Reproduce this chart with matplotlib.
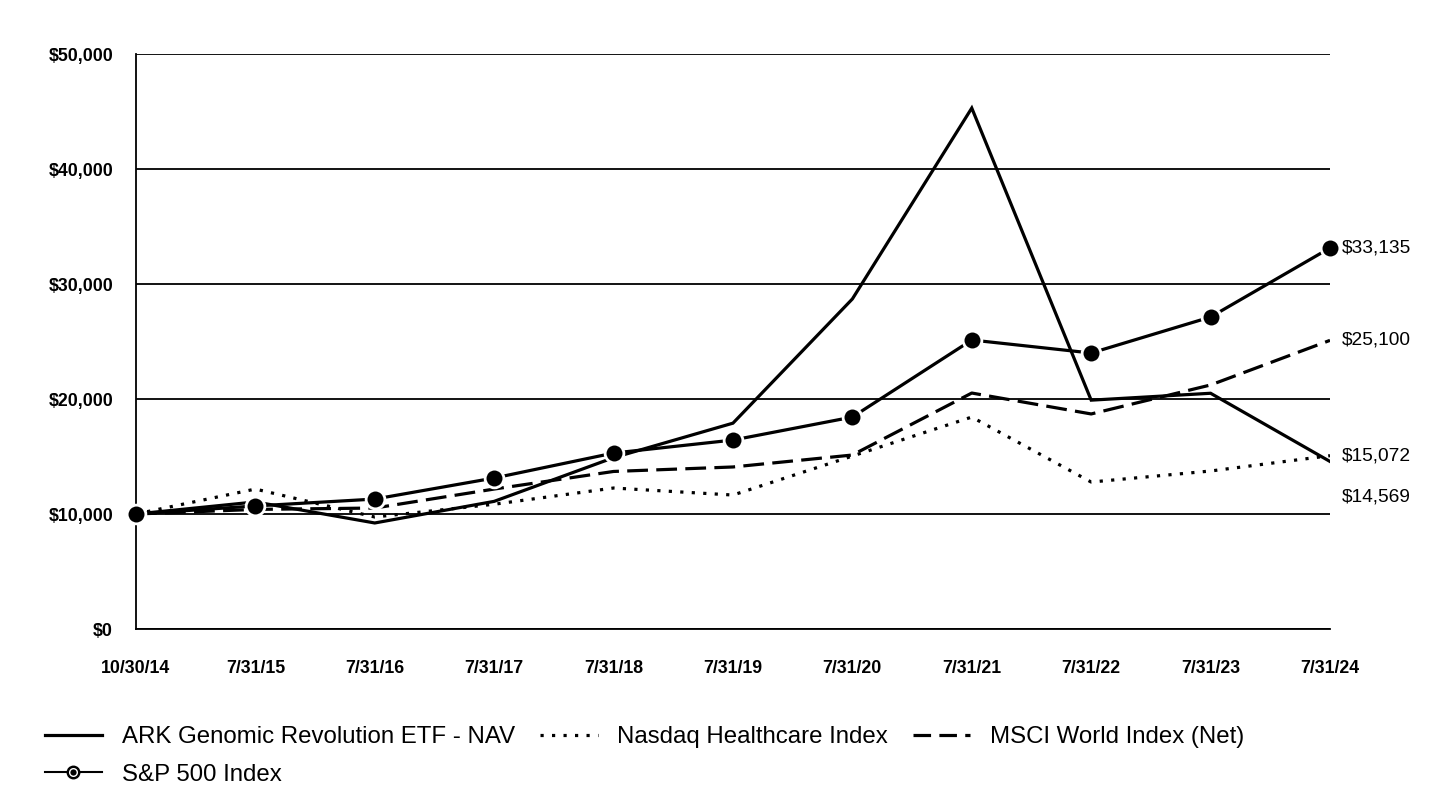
import matplotlib.pyplot as plt
from matplotlib.lines import Line2D
from matplotlib.ticker import FuncFormatter

plt.rcParams['font.family'] = ['Liberation Sans', 'DejaVu Sans']

dates = ['10/30/14', '7/31/15', '7/31/16', '7/31/17', '7/31/18', '7/31/19',
         '7/31/20', '7/31/21', '7/31/22', '7/31/23', '7/31/24']

ark = [10000, 11050, 9220, 11100, 14900, 17900, 28700, 45300, 19900, 20500, 14569]
nasdaq = [10000, 12170, 9740, 10850, 12260, 11650, 15040, 18430, 12780, 13740, 15072]
msci = [10000, 10400, 10520, 12170, 13700, 14090, 15130, 20520, 18700, 21220, 25100]
sp500 = [10000, 10700, 11300, 13130, 15300, 16430, 18430, 25130, 24000, 27130, 33135]

yticks = [0, 10000, 20000, 30000, 40000, 50000]


def money(x, pos=None):
    return f'${x:,.0f}'


fig = plt.figure(figsize=(14.4, 7.92), dpi=100)
ax = fig.add_axes([0.0944, 0.2058, 0.8292, 0.726])

x = list(range(len(dates)))
lw = 2.3
dotted = (0, (1, 2.6))
dashed = (0, (6.5, 2.6))
ax.plot(x, ark, color='black', lw=lw, solid_joinstyle='miter', zorder=3)
ax.plot(x, nasdaq, color='black', lw=lw, linestyle=dotted, zorder=3)
ax.plot(x, msci, color='black', lw=lw, linestyle=dashed, zorder=3)
ax.plot(x, sp500, color='black', lw=lw, marker='o', markersize=13.5,
        markerfacecolor='black', markeredgecolor='white', markeredgewidth=2,
        zorder=4, clip_on=False)

ax.set_xlim(0, len(dates) - 1)
ax.set_ylim(0, 50000)
ax.set_yticks(yticks)
ax.yaxis.set_major_formatter(FuncFormatter(money))
ax.set_xticks(x)
ax.set_xticklabels(dates)
ax.tick_params(axis='both', length=0, labelsize=12.8)
ax.tick_params(axis='x', pad=22)
ax.tick_params(axis='y', pad=16.5)
for lab in ax.get_xticklabels() + ax.get_yticklabels():
    lab.set_fontweight('bold')

ax.grid(axis='y', color='black', lw=1.3)
ax.set_axisbelow(True)
for side in ['top', 'right']:
    ax.spines[side].set_visible(False)
ax.spines['left'].set_linewidth(1.3)
ax.spines['bottom'].set_linewidth(1.3)

# end-of-line value labels
ends = [(sp500[-1], 0), (msci[-1], 0), (nasdaq[-1], 0), (ark[-1], -36)]
for val, dy in ends:
    ax.annotate(money(val), xy=(x[-1], val), xytext=(12, dy), textcoords='offset pixels',
                va='center', ha='left', fontsize=13.8, annotation_clip=False)

sp_handle = (
    Line2D([], [], color='black', lw=1.5, marker='o', markersize=9,
           markerfacecolor='black', markeredgecolor='black'),
    Line2D([], [], color='none', marker='o', markersize=5.5,
           markerfacecolor='black', markeredgecolor='white', markeredgewidth=1),
)
handles = [
    Line2D([], [], color='black', lw=lw),
    sp_handle,
    Line2D([], [], color='black', lw=lw, linestyle=dotted),
    Line2D([], [], color='black', lw=lw, linestyle=(0, (5.5, 2.6))),
]
labels = ['ARK Genomic Revolution ETF - NAV', 'S&P 500 Index',
          'Nasdaq Healthcare Index', 'MSCI World Index (Net)']
fig.legend(handles, labels, ncol=3, loc='upper left', bbox_to_anchor=(0.031, 0.0833),
           frameon=False, fontsize=17.3, handlelength=2.4, handletextpad=0.8,
           columnspacing=1.05, labelspacing=0.65, borderaxespad=0, borderpad=0)

fig.savefig('out.png', dpi=100)
